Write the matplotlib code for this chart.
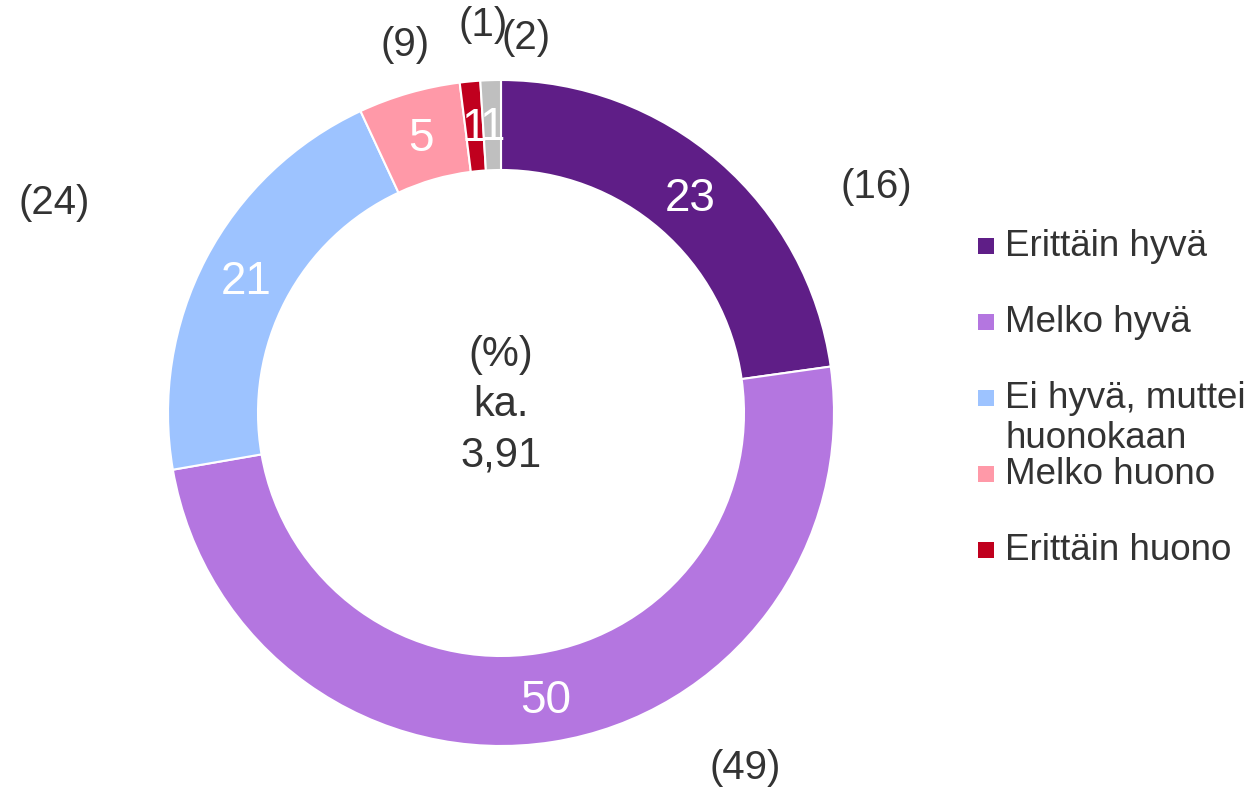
import numpy as np
import matplotlib.pyplot as plt
from matplotlib.patches import Rectangle

plt.rcParams['font.family'] = ['Liberation Sans', 'DejaVu Sans']

# data
categories = ['Erittäin hyvä', 'Melko hyvä', 'Ei hyvä, muttei\nhuonokaan',
              'Melko huono', 'Erittäin huono', 'En osaa sanoa']
values = [23, 50, 21, 5, 1, 1]
prev_values = [16, 49, 24, 9, 1, 2]
colors = ['#5F1E87', '#B476E0', '#9DC3FF', '#FF99A8', '#C0001E', '#BFBFBF']
center_label = '(%)\nka.\n3,91'
n_legend = 5

# layout (pixels, measured from top-left)
W, H = 1253, 791
prev_pos = [(876, 187), (745, 768), (54, 203), (405, 45), (483, 25), (526, 38)]
text_col = '#333333'

fig = plt.figure(figsize=(W / 100, H / 100), dpi=100)
ax = fig.add_axes([0, 0, 1, 1])

cx, cy = 501, H - 413
R, ring = 333, 90
wedges, _ = ax.pie(values, colors=colors, startangle=90, counterclock=False,
                   center=(cx, cy), radius=R,
                   wedgeprops=dict(width=ring, edgecolor='white', linewidth=1.5))
ax.set_xlim(0, W)
ax.set_ylim(0, H)
ax.set_aspect('equal')
ax.axis('off')

# values inside the ring
for w, v in zip(wedges, values):
    ang = np.deg2rad((w.theta1 + w.theta2) / 2)
    r = R - ring / 2
    ax.text(cx + r * np.cos(ang), cy + r * np.sin(ang) - 3, str(v), color='white',
            fontsize=33, ha='center', va='center')

# previous values
for (x, y), p in zip(prev_pos, prev_values):
    ax.text(x, H - y, f'({p})', fontsize=29, color=text_col, ha='center', va='center')

ax.text(cx, H - 405, center_label, fontsize=30, color=text_col, ha='center',
        va='center', linespacing=1.33)

# legend
for i in range(n_legend):
    y = 246 + 76 * i
    ax.add_patch(Rectangle((978, H - y - 8), 16, 16, facecolor=colors[i], edgecolor='none'))
    for j, line in enumerate(categories[i].split('\n')):
        ax.text(1005, H - y - 41 * j, line, fontsize=26.5, color=text_col,
                ha='left', va='center')

fig.savefig('out.png', dpi=100)
